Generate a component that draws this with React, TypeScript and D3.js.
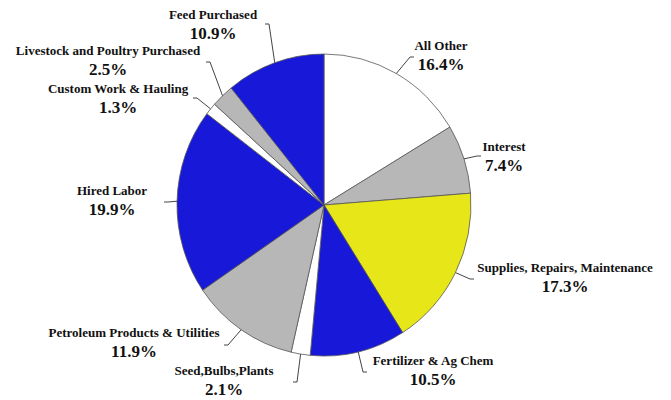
import React, { useEffect, useRef } from 'react';
import * as d3 from 'd3';

const categories = [
  'All Other',
  'Interest',
  'Supplies, Repairs, Maintenance',
  'Fertilizer & Ag Chem',
  'Seed,Bulbs,Plants',
  'Petroleum Products & Utilities',
  'Hired Labor',
  'Custom Work & Hauling',
  'Livestock and Poultry Purchased',
  'Feed Purchased',
];
const shares = [16.4, 7.4, 17.3, 10.5, 2.1, 11.9, 19.9, 1.3, 2.5, 10.9];
const percentLabels = ['16.4%', '7.4%', '17.3%', '10.5%', '2.1%', '11.9%', '19.9%', '1.3%', '2.5%', '10.9%'];

const sliceColors = ['#ffffff', '#b7b7b7', '#e6e619', '#1818d8', '#ffffff', '#b7b7b7', '#1818d8', '#ffffff', '#b7b7b7', '#1818d8'];

// label layout: text centre x, baseline of name; leader elbow
const labelPos: [number, number][] = [
  [441, 50], [504, 151], [565, 272], [433, 365], [224, 375],
  [134, 337], [112, 195], [118, 93], [108, 55], [213, 19],
];
const leaderEnd: [number, number][] = [
  [410, 57], [477, 156], [470, 279], [363, 372], [297, 382],
  [228, 345], [168, 202], [197, 98], [210, 62], [269, 24],
];

const FONT = "'Times New Roman', Times, 'Liberation Serif', 'DejaVu Serif', serif";

export default function App() {
  const svgRef = useRef<SVGSVGElement>(null);
  const width = 671;
  const height = 400;

  useEffect(() => {
    if (!svgRef.current) return;
    d3.select(svgRef.current).selectAll('*').remove();

    const cx = 324;
    const cy = 205;
    const rx = 147;
    const ry = 151;

    const svg = d3.select(svgRef.current).attr('width', width).attr('height', height);

    const pie = d3.pie<number>().value((d) => d).sort(null);
    const arcs = pie(shares);
    const arc = d3.arc<d3.PieArcDatum<number>>().innerRadius(0).outerRadius(ry);

    const g = svg
      .append('g')
      .attr('transform', `translate(${cx},${cy}) scale(${rx / ry},1)`);

    g.selectAll('path')
      .data(arcs)
      .enter()
      .append('path')
      .attr('d', arc as any)
      .attr('fill', (d, i) => sliceColors[i])
      .attr('stroke', '#555')
      .attr('stroke-width', 0.8);

    // leader lines
    arcs.forEach((d, i) => {
      const a = (d.startAngle + d.endAngle) / 2;
      const x0 = cx + Math.sin(a) * rx;
      const y0 = cy - Math.cos(a) * ry;
      const [x1, y1] = leaderEnd[i];
      const tick = x1 < cx ? -4 : 4;
      svg
        .append('polyline')
        .attr('points', `${x0},${y0} ${x1},${y1} ${x1 + tick},${y1}`)
        .attr('fill', 'none')
        .attr('stroke', '#444')
        .attr('stroke-width', 1);
    });

    const labels = svg
      .selectAll('.lbl')
      .data(categories)
      .enter()
      .append('g')
      .attr('class', 'lbl')
      .attr('transform', (d, i) => `translate(${labelPos[i][0]},${labelPos[i][1]})`);

    labels
      .append('text')
      .attr('text-anchor', 'middle')
      .style('font-family', FONT)
      .style('font-weight', 'bold')
      .style('font-size', '13px')
      .style('fill', '#111')
      .text((d) => d);

    labels
      .append('text')
      .attr('text-anchor', 'middle')
      .attr('y', 20)
      .style('font-family', FONT)
      .style('font-weight', 'bold')
      .style('font-size', '17px')
      .style('fill', '#111')
      .text((d, i) => percentLabels[i]);
  }, []);

  return (
    <svg
      ref={svgRef}
      style={{ position: 'absolute', left: 0, top: 0, display: 'block', background: '#fff' }}
    ></svg>
  );
}
